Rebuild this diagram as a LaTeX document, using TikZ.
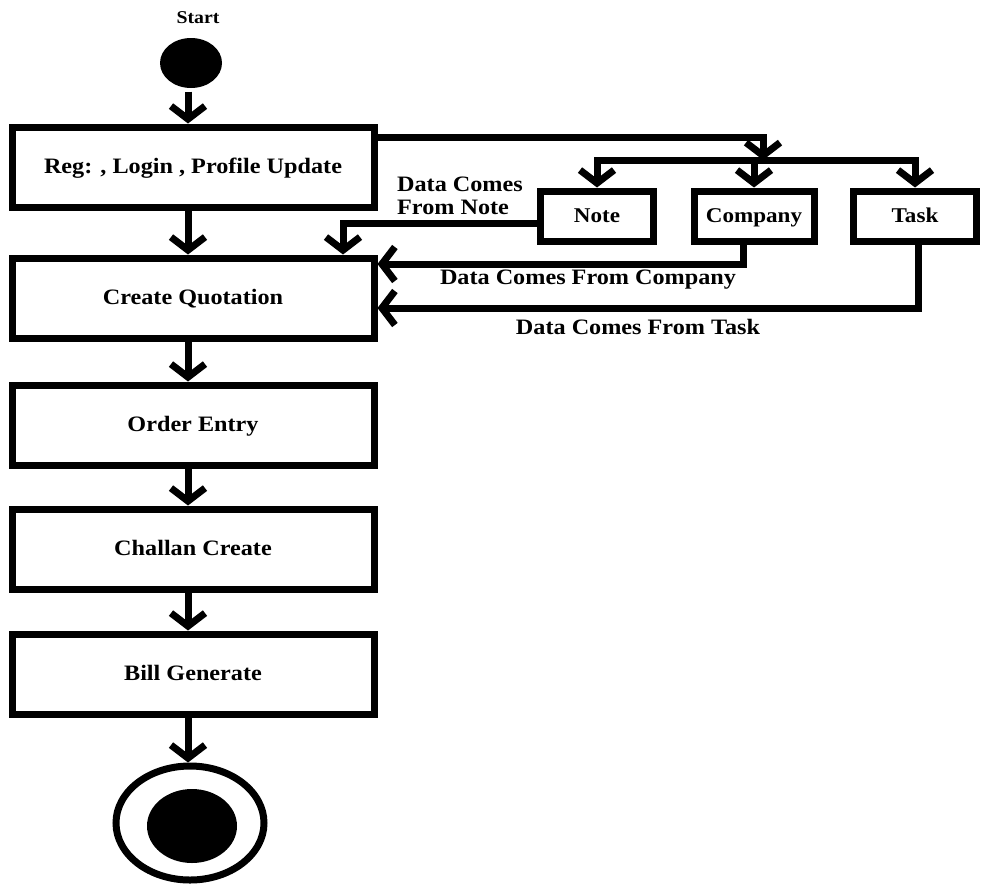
\documentclass[tikz,border=0pt]{standalone}
\usepackage{fontspec}
\setmainfont{Liberation Serif}
\newfontfamily\chartfont[FakeStretch=1.1]{Liberation Serif}
\usetikzlibrary{arrows.meta,shapes.geometric}

\begin{document}
\begin{tikzpicture}[x=1pt, y=-1pt, line width=7pt,
		>={Straight Barb[length=13pt, width=34pt]},
		actbox/.style={draw, minimum width=362pt, minimum height=80pt, text height=16pt, text depth=4pt,
			font=\chartfont\bfseries\fontsize{22}{24}\selectfont},
		sidebox/.style={draw, minimum height=50pt, text height=16pt, text depth=4pt,
			font=\chartfont\bfseries\fontsize{21}{24}\selectfont},
		lbl/.style={font=\chartfont\bfseries\fontsize{22}{23}\selectfont, align=left}]
		\useasboundingbox (0,0) rectangle (984,884);
		
		\node[font=\chartfont\bfseries\fontsize{18}{20}\selectfont] (startlbl) at (198,18) {Start};
		\node[ellipse, fill, inner sep=0pt, minimum width=62pt, minimum height=50pt] (start) at (191,63) {};
		
		\foreach \n\t\y in {reg/{Reg: , Login , Profile Update}/167, quot/Create Quotation/298,
			order/Order Entry/425, challan/Challan Create/549, bill/Bill Generate/674}
		\node[actbox] (\n) at (193,\y) {\t};
		
		\node[ellipse, draw, minimum width=148pt, minimum height=114pt] (finish) at (190,823) {};
		\node[ellipse, fill, inner sep=0pt, minimum width=90pt, minimum height=74pt] (finishcore) at (192,826) {};
		
		\node[sidebox, minimum width=113pt] (note) at (597,216) {Note};
		\node[sidebox, minimum width=120pt] (company) at (754,216) {Company};
		\node[sidebox, minimum width=123pt] (task) at (915,216) {Task};
		
		\node[lbl] (notelbl) at (460,196) {Data Comes\\From Note};
		\node[lbl] (complbl) at (588,280) {Data Comes From Company};
		\node[lbl] (tasklbl) at (638,327) {Data Comes From Task};
		
		% main flow
		\coordinate (axis) at (188,0);
		\foreach \a\b in {start/reg, reg/quot, quot/order, order/challan, challan/bill, bill/finish}
		\draw[->] (\a.south -| axis) -- (\b.north -| axis);
		
		\coordinate (split) at (763,160);
		\draw[->] ([yshift=-13.5pt]reg.north east) -| (split);
		\draw[->] (split) -| (note);
		\draw[->] (split) -| (task);
		\draw[->] (company.north |- split) -- (company);
		
		\draw[->] ([yshift=-7pt]note.west) -| ([xshift=150pt]quot.north);
		\draw[->] ([xshift=-11pt]company.south) |- ([yshift=34pt]quot.east);
		\draw[->] ([xshift=3pt]task.south) |- ([yshift=-10pt]quot.east);
	\end{tikzpicture}
\end{document}
